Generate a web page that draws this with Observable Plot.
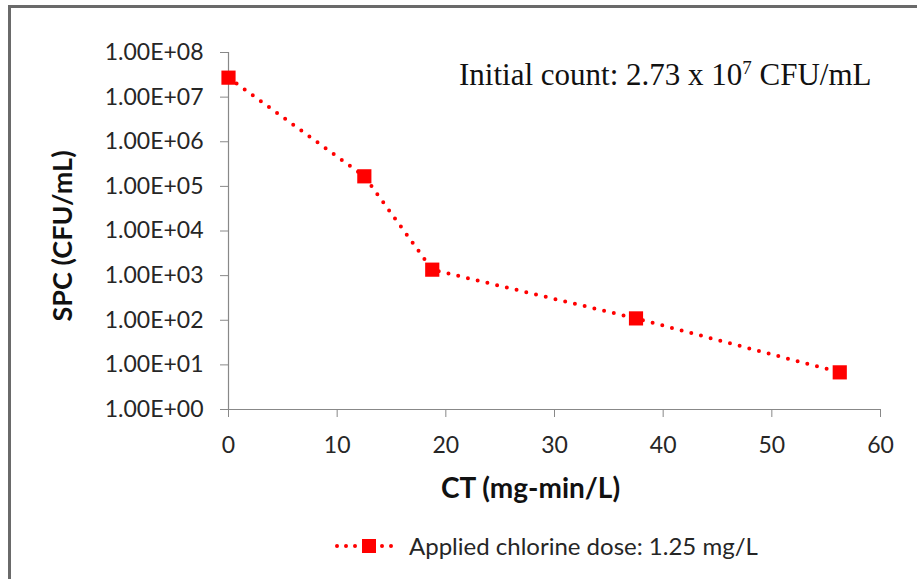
<!DOCTYPE html>
<html>
<head>
<meta charset="utf-8">
<script src="https://cdn.jsdelivr.net/npm/d3@7"></script>
<script src="https://cdn.jsdelivr.net/npm/@observablehq/plot@0.6"></script>
<style>
  html, body { margin: 0; padding: 0; background: #fff; }
  #wrap { position: relative; width: 917px; height: 579px; overflow: hidden; background: #fff; }
  #frame { position: absolute; left: 8px; top: 5px; width: 909px; height: 574px;
           border-top: 3px solid #6a6a6a; border-left: 3px solid #6a6a6a; box-sizing: border-box; }
  #chart { position: absolute; left: 0; top: 0; }
  #note { position: absolute; left: 459px; top: 59px; font-family: "Liberation Serif", "Times New Roman", serif;
          font-size: 31px; color: #111; white-space: nowrap; line-height: 1; }
  #note sup { font-size: 19px; vertical-align: 0; position: relative; top: -11px; }
  #legend { position: absolute; left: 335px; top: 531px; display: flex; align-items: center;
            font-family: Lato, sans-serif; font-size: 24px; color: #262626; white-space: nowrap; }
  #legend svg { margin-right: 10px; }
</style>
</head>
<body>
<div id="wrap">
  <div id="frame"></div>
  <div id="chart"></div>
  <div id="note">Initial count: 2.73 x 10<sup>7</sup> CFU/mL</div>
  <div id="legend"></div>
</div>
<script>
// ---- data ----
const ctValues = [0, 12.5, 18.75, 37.5, 56.25];           // CT (mg-min/L)
const spcValues = [2.73e7, 1.68e5, 1.36e3, 110, 6.8];      // SPC (CFU/mL)
const xTicks = [0, 10, 20, 30, 40, 50, 60];
const yTicks = [1, 10, 100, 1e3, 1e4, 1e5, 1e6, 1e7, 1e8];
const yTickLabels = ["1.00E+00", "1.00E+01", "1.00E+02", "1.00E+03", "1.00E+04",
                     "1.00E+05", "1.00E+06", "1.00E+07", "1.00E+08"];
const xTitle = "CT (mg-min/L)";
const yTitle = "SPC (CFU/mL)";
const seriesName = "Applied chlorine dose: 1.25 mg/L";

const data = ctValues.map((ct, i) => ({ct, spc: spcValues[i]}));
const red = "#ff0000";
const axisGray = "#888888";
const textColor = "#262626";

const chart = Plot.plot({
  width: 917,
  height: 520,
  marginLeft: 228,
  marginRight: 37,
  marginTop: 52,
  marginBottom: 111,
  style: {fontFamily: "Lato, sans-serif", fontSize: "23px", color: textColor, background: "transparent", overflow: "visible"},
  x: {domain: [0, 60]},
  y: {type: "log", domain: [1, 1e8]},
  marks: [
    Plot.axisX({ticks: xTicks, tickSize: 8, tickPadding: 19, stroke: axisGray, fill: textColor, label: null, fontSize: 23}),
    Plot.axisY({ticks: yTicks, tickSize: 8, tickPadding: 17, stroke: axisGray, fill: textColor, label: null, fontSize: 23,
                tickFormat: d => yTickLabels[yTicks.indexOf(d)]}),
    Plot.ruleY([1], {stroke: axisGray, strokeWidth: 1.2}),
    Plot.ruleX([0], {stroke: axisGray, strokeWidth: 1.2}),
    Plot.line(data, {x: "ct", y: "spc", stroke: red, strokeWidth: 4, strokeDasharray: "0 10", strokeLinecap: "round"}),
    Plot.dot(data, {x: "ct", y: "spc", symbol: "square", r: 8, fill: red}),
    Plot.text([yTitle], {frameAnchor: "left", textAnchor: "middle", dx: -165, dy: 5, rotate: -90, fontWeight: "bold", fontSize: 27, fill: "#111"}),
    Plot.text([xTitle], {frameAnchor: "bottom", textAnchor: "middle", dx: -24, dy: 88, fontWeight: "bold", fontSize: 28, fill: "#111"})
  ]
});
document.getElementById("chart").appendChild(chart);

// legend
const lg = d3.select("#legend");
const sw = lg.append("svg").attr("width", 64).attr("height", 20);
sw.append("line").attr("x1", 2).attr("x2", 62).attr("y1", 10).attr("y2", 10)
  .attr("stroke", red).attr("stroke-width", 4).attr("stroke-dasharray", "0 9").attr("stroke-linecap", "round");
sw.append("rect").attr("x", 27).attr("y", 3).attr("width", 14).attr("height", 14).attr("fill", red);
lg.append("span").text(seriesName);
</script>
</body>
</html>
